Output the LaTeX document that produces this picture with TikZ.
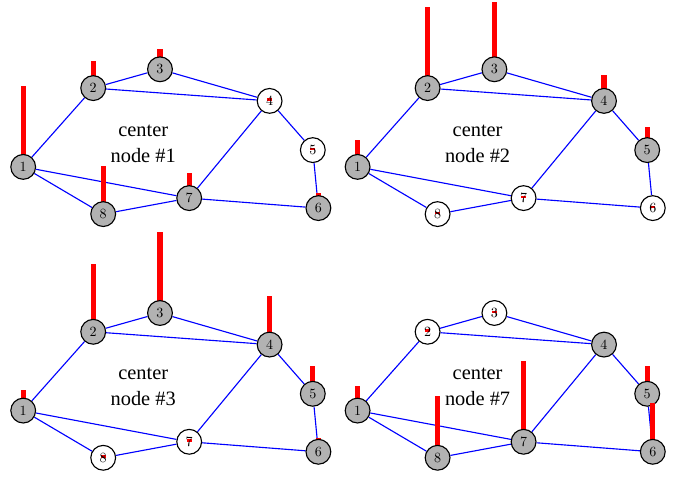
\documentclass[tikz,border=0pt]{standalone}
\usepackage{fontspec}
\usepackage{tikz}
\usepackage{xcolor}
\usetikzlibrary{backgrounds}
\newfontfamily\capfont{Liberation Serif}

\begin{document}
\begin{tikzpicture}[vtx/.style={circle, draw, line width=0.8pt, minimum size=6.2mm, inner sep=0pt},
    bar/.style={red, line width=3.6pt},
    link/.style={blue, line width=0.8pt},
    captxt/.style={align=center, font=\capfont\fontsize{14.5}{18.4}\selectfont}]
  \useasboundingbox (0,0) rectangle (17.2,11.925);
  % panel / shift / centre node / bar heights of nodes 1..8
  \foreach \p/\sx/\sy/\c/\vals in {1/0/6.0925/1/{1,.33,.25,.03,.03,.19,.31,.60},
                                   2/8.36/6.0925/2/{.33,1,.83,.32,.28,.03,.03,.03},
                                   3/0/0/3/{.25,.84,1,.60,.35,.17,.03,.03},
                                   4/8.36/0/7/{.31,.03,.03,.15,.34,.60,1,.77}} {
    \begin{scope}[shift={(\sx,\sy)}]
      \foreach \i/\x/\y in {1/0.58/1.66, 2/2.33/3.63, 3/4.0/4.1, 4/6.74/3.31,
                            5/7.82/2.08, 6/7.96/0.63, 7/4.73/0.88, 8/2.58/0.48}
        \coordinate (c\p-\i) at (\x,\y);
      \foreach \h [count=\i] in \vals {
        \ifdim\h pt>0.1pt \def\shade{black!30}\else\def\shade{none}\fi
        \draw[bar] (c\p-\i) -- ++(0,2.02*\h);
        \node[vtx, fill=\shade] (n\p-\i) at (c\p-\i) {\i};
      }
      \begin{scope}[on background layer]
        \foreach \a/\b in {1/2,1/7,1/8,2/3,2/4,3/4,4/5,4/7,5/6,6/7,7/8}
          \draw[link] (n\p-\a) -- (n\p-\b);
      \end{scope}
      \node[captxt] (label\p) at (3.58,2.245) {center\\node \#\c};
    \end{scope}
  }
\end{tikzpicture}
\end{document}
